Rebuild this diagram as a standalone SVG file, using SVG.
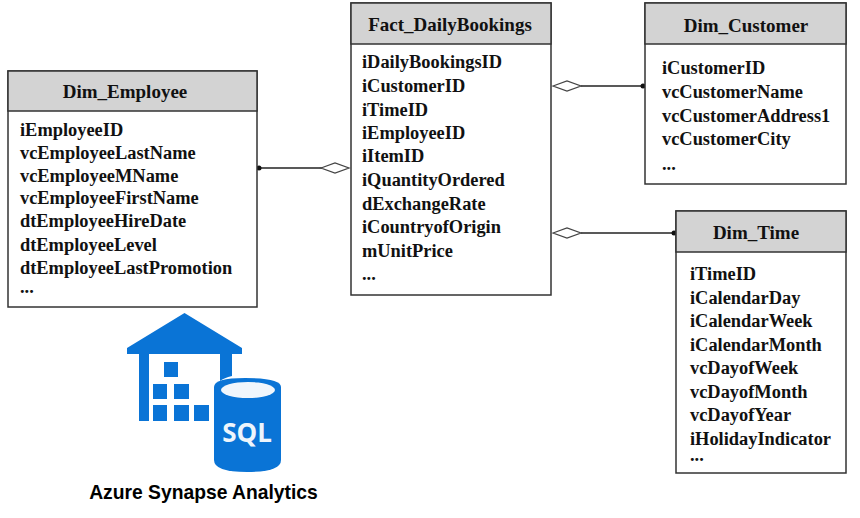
<svg xmlns="http://www.w3.org/2000/svg" width="860" height="518" viewBox="0 0 860 518">
<style>
text{font-family:"Liberation Serif","Times New Roman",serif;font-weight:bold;font-size:18.4px;fill:#111}
.t{font-size:19px;text-anchor:middle}
.b{fill:#fff;stroke:#333;stroke-width:1.5}
.h{fill:#d3d3d3;stroke:#333;stroke-width:1.5}
.c{stroke:#222;stroke-width:1.5;fill:none}
.d{fill:#fff;stroke:#444;stroke-width:1.2}
.i{fill:#0a74d6}
</style>
<rect width="860" height="518" fill="#fff"/>
<g id="connectors">
<path class="c" d="M258 168H322"/><circle cx="259" cy="168" r="2.5" fill="#111"/><path class="d" d="M321 168L335 163L349 168L335 173Z"/>
<path class="c" d="M581 86H643"/><circle cx="643" cy="86" r="2.5" fill="#111"/><path class="d" d="M553 86L567 81L581 86L567 91Z"/>
<path class="c" d="M581 233H675"/><circle cx="674" cy="233" r="2.500" fill="#111"/><path class="d" d="M553 233L567 228L581 233L567 238Z"/>
</g>
<g id="dim-employee">
<rect class="b" x="8" y="71" width="249" height="236"/><rect class="h" x="8" y="71" width="249" height="40"/>
<text class="t" x="125" y="98">Dim_Employee</text>
<text x="20" y="136">iEmployeeID</text><text x="20" y="159">vcEmployeeLastName</text><text x="20" y="182">vcEmployeeMName</text><text x="20" y="204">vcEmployeeFirstName</text><text x="20" y="227">dtEmployeeHireDate</text><text x="20" y="251">dtEmployeeLevel</text><text x="20" y="274">dtEmployeeLastPromotion</text><text x="20" y="293">...</text>
</g>
<g id="fact-dailybookings">
<rect class="b" x="351" y="3" width="200" height="292"/><rect class="h" x="351" y="3" width="200" height="41"/>
<text class="t" x="450" y="31">Fact_DailyBookings</text>
<text x="362" y="68">iDailyBookingsID</text><text x="362" y="92">iCustomerID</text><text x="362" y="116">iTimeID</text><text x="362" y="139">iEmployeeID</text><text x="362" y="162">iItemID</text><text x="362" y="186">iQuantityOrdered</text><text x="362" y="210">dExchangeRate</text><text x="362" y="233">iCountryofOrigin</text><text x="362" y="257">mUnitPrice</text><text x="362" y="280">...</text>
</g>
<g id="dim-customer">
<rect class="b" x="645" y="3" width="201" height="181"/><rect class="h" x="645" y="3" width="201" height="41"/>
<text class="t" x="746" y="32">Dim_Customer</text>
<text x="662" y="74">iCustomerID</text><text x="662" y="98">vcCustomerName</text><text x="662" y="122">vcCustomerAddress1</text><text x="662" y="145">vcCustomerCity</text><text x="662" y="170">...</text>
</g>
<g id="dim-time">
<rect class="b" x="676" y="211" width="170" height="262"/><rect class="h" x="676" y="211" width="170" height="41"/>
<text class="t" x="756" y="239">Dim_Time</text>
<text x="690" y="280">iTimeID</text><text x="690" y="304">iCalendarDay</text><text x="690" y="327">iCalendarWeek</text><text x="690" y="351">iCalendarMonth</text><text x="690" y="374">vcDayofWeek</text><text x="690" y="398">vcDayofMonth</text><text x="690" y="421">vcDayofYear</text><text x="690" y="445">iHolidayIndicator</text><text x="690" y="461">...</text>
</g>
<g id="azure-synapse">
<path class="i" d="M184.500 313L242 348V354H232V376Q224 378 220 381V354H149V421H139V354H127V348Z"/>
<rect class="i" x="164" y="362" width="14" height="15"/>
<rect class="i" x="153" y="384" width="14" height="15"/><rect class="i" x="174" y="384" width="15" height="15"/>
<rect class="i" x="153" y="405" width="14" height="16"/><rect class="i" x="174" y="405" width="15" height="16"/><rect class="i" x="194" y="405" width="15" height="16"/>
<path class="i" d="M214 387Q214 378 245 378Q281 378 281 387V460Q281 472 247 472Q214 472 214 460Z"/>
<ellipse cx="248" cy="390" rx="27" ry="8" fill="#f0f6fc"/>
<text x="247" y="442" style="font-family:'Open Sans','Liberation Sans',sans-serif;font-size:26px;fill:#eef5fc;text-anchor:middle">SQL</text>
<text x="203.500" y="499" style="font-family:'Liberation Sans',Arial,sans-serif;font-size:19.300px;fill:#000;text-anchor:middle">Azure Synapse Analytics</text>
</g>
</svg>
